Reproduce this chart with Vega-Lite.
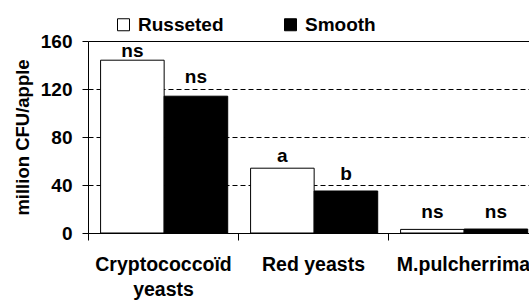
{
  "$schema": "https://vega.github.io/schema/vega-lite/v6.json",
  "width": 441,
  "height": 192,
  "autosize": "none",
  "padding": {"left": 88, "top": 41, "right": 0, "bottom": 69},
  "background": "white",
  "data": {
    "values": [
      {"group": "Cryptococcoïd yeasts", "type": "Russeted", "cfu": 144, "upper": 146.7, "sig": "ns"},
      {"group": "Cryptococcoïd yeasts", "type": "Smooth", "cfu": 114, "upper": 125, "sig": "ns"},
      {"group": "Red yeasts", "type": "Russeted", "cfu": 54, "upper": 59.5, "sig": "a"},
      {"group": "Red yeasts", "type": "Smooth", "cfu": 35, "upper": 44, "sig": "b"},
      {"group": "M.pulcherrima", "type": "Russeted", "cfu": 3, "upper": 12.5, "sig": "ns"},
      {"group": "M.pulcherrima", "type": "Smooth", "cfu": 3.3, "upper": 12.5, "sig": "ns"}
    ]
  },
  "encoding": {
    "x": {
      "field": "group",
      "type": "nominal",
      "sort": ["Cryptococcoïd yeasts", "Red yeasts", "M.pulcherrima"],
      "scale": {"range": [0, 450], "paddingInner": 0, "paddingOuter": 0},
      "axis": {
        "title": null,
        "labelAngle": 0,
        "tickBand": "extent",
        "tickSize": 7,
        "tickColor": "black",
        "domainColor": "black",
        "labelColor": "black",
        "labelFont": "Liberation Sans",
        "labelFontWeight": "bold",
        "labelFontSize": 19.5,
        "labelPadding": 15,
        "labelLineHeight": 25,
        "labelLimit": 0,
        "labelOverlap": false,
        "labelExpr": "datum.label == 'Cryptococcoïd yeasts' ? ['Cryptococcoïd', 'yeasts'] : datum.label"
      }
    },
    "xOffset": {
      "field": "type",
      "type": "nominal",
      "sort": ["Russeted", "Smooth"],
      "scale": {"paddingInner": 0, "paddingOuter": 0.18, "align": 0.55}
    }
  },
  "layer": [
    {
      "mark": {"type": "bar", "stroke": "black", "strokeWidth": 1},
      "encoding": {
        "y": {
          "field": "cfu",
          "type": "quantitative",
          "scale": {"domain": [0, 160], "nice": false},
          "axis": {
            "title": "million CFU/apple",
            "values": [0, 40, 80, 120, 160],
            "tickSize": 6,
            "tickColor": "black",
            "domainColor": "black",
            "labelColor": "black",
            "labelFont": "Liberation Sans",
            "labelFontWeight": "bold",
            "labelFontSize": 19,
            "labelPadding": 10,
            "titleFont": "Liberation Sans",
            "titleFontWeight": "bold",
            "titleFontSize": 18.5,
            "titleColor": "black",
            "titlePadding": 8,
            "grid": true,
            "gridColor": "black",
            "gridWidth": 1,
            "gridOpacity": 1,
            "gridDash": {"condition": {"test": "datum.value == 160", "value": []}, "value": [5, 3]}
          }
        },
        "fill": {
          "field": "type",
          "type": "nominal",
          "sort": ["Russeted", "Smooth"],
          "scale": {"domain": ["Russeted", "Smooth"], "range": ["white", "black"]},
          "legend": {
            "title": null,
            "orient": "none",
            "direction": "horizontal",
            "legendX": 26,
            "legendY": -26,
            "symbolType": "square",
            "symbolSize": 144,
            "symbolStrokeColor": "black",
            "symbolStrokeWidth": 1,
            "symbolOpacity": 1,
            "labelFont": "Liberation Sans",
            "labelFontWeight": "bold",
            "labelFontSize": 19,
            "labelColor": "black",
            "labelOffset": 5,
            "columnPadding": 57
          }
        }
      }
    },
    {
      "mark": {"type": "text", "font": "Liberation Sans", "fontWeight": "bold", "fontSize": 19, "color": "black", "align": "center", "baseline": "alphabetic"},
      "encoding": {
        "y": {"field": "upper", "type": "quantitative"},
        "text": {"field": "sig", "type": "nominal"}
      }
    }
  ],
  "config": {
    "view": {"stroke": null}
  }
}
